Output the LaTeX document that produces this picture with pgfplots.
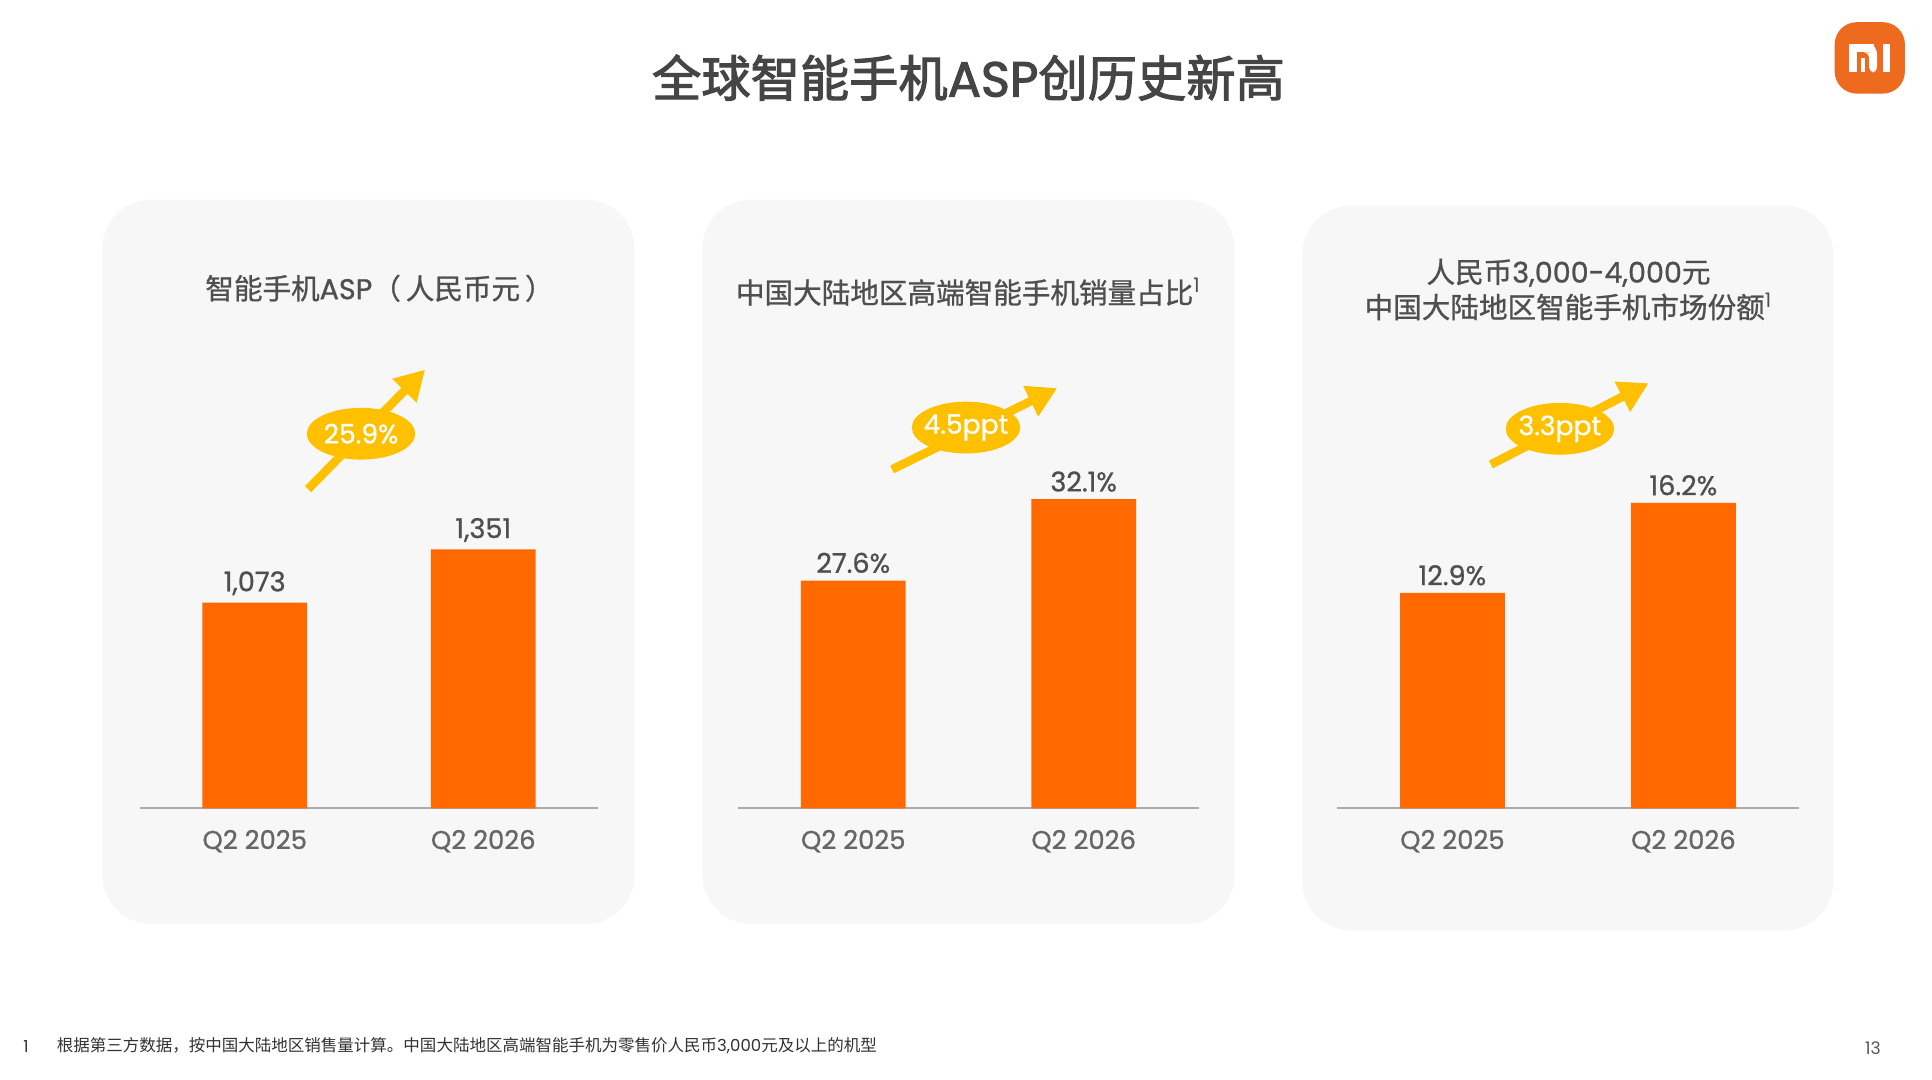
\documentclass[border=0pt]{standalone}
\usepackage{fontspec}
\usepackage{pgfplots}
\pgfplotsset{compat=1.18}
\usetikzlibrary{arrows.meta}
\setmainfont{Poppins}
\newfontfamily\popm{Poppins}[FakeBold=0.9]
\newfontfamily\popt{Poppins}[FakeBold=2.2]
\newfontfamily\cjk{Noto Sans CJK SC}
\newfontfamily\cjkm{Noto Sans CJK SC}[FakeBold=0.9]
\newfontfamily\cjkt{Noto Sans CJK SC}[FakeBold=2.2]
\definecolor{miorange}{HTML}{FF6900}
\definecolor{logoorange}{HTML}{EE6A1F}
\definecolor{panelbg}{HTML}{F7F7F7}
\definecolor{titlegray}{HTML}{454545}
\definecolor{textgray}{HTML}{4F4F4F}
\definecolor{tickgray}{HTML}{666666}
\definecolor{arrowyellow}{HTML}{FFC000}
\pgfplotsset{mibar/.style={
  scale only axis, height=178pt, anchor=south west,
  ybar, bar width=42.5pt,
  xmin=-0.5, xmax=1.5, xtick={0,1}, xticklabels={Q2 2025,Q2 2026},
  axis x line*=bottom, axis y line=none,
  x axis line style={draw=black!33, line width=0.8pt, -},
  xtick style={draw=none},
  xticklabel style={font=\fontsize{10.5}{12}\selectfont\popm, text=tickgray, yshift=-1pt},
  enlargelimits=false,
  nodes near coords, point meta=explicit symbolic,
  every node near coord/.append style={font=\fontsize{11}{12}\selectfont\popm, text=textgray, yshift=-0.5pt},
  clip=false,
}}
\begin{document}
\begin{tikzpicture}
\begin{scope}[x=0.5pt,y=-0.5pt]
  \fill[white] (0,0) rectangle (1568,876.5);
  % panels
  \fill[panelbg, rounded corners=20pt] (83,162) rectangle (515,750);
  \fill[panelbg, rounded corners=20pt] (570,162) rectangle (1002,750);
  \fill[panelbg, rounded corners=20pt] (1057,167) rectangle (1488,755);
  % main title
  \node[text=titlegray, font=\fontsize{20}{24}\selectfont] at (786,63)
    {{\cjkt 全球智能手机}{\popt ASP}{\cjkt 创历史新高}};
  % panel titles
  \node[text=textgray, font=\fontsize{11.6}{14}\selectfont] at (308,234)
    {{\cjkm 智能手机}{\popm ASP}{\cjkm （\hspace{2pt}人民币元\hspace{2pt}）}};
  \node[text=textgray, font=\fontsize{11.6}{14}\selectfont] at (786,237)
    {{\cjkm 中国大陆地区高端智能手机销量占比}\textsuperscript{1}};
  \node[text=textgray, font=\fontsize{11.6}{14.3}\selectfont, align=center] at (1273,235)
    {{\cjkm 人民币}{\popm 3,000-4,000}{\cjkm 元}\\{\cjkm 中国大陆地区智能手机市场份额}\textsuperscript{1}};
  % growth arrows
  \draw[arrowyellow, line width=3.5pt, -{Triangle[length=12pt,width=13pt]}] (250,397) -- (345,300);
  \fill[arrowyellow] (293,352) ellipse [x radius=44, y radius=21];
  \node[white, font=\fontsize{10.8}{12}\selectfont\popm] at (293,352) {25.9\%};
  \draw[arrowyellow, line width=3.5pt, -{Triangle[length=12pt,width=13pt]}] (724,381) -- (858,315);
  \fill[arrowyellow] (784,347) ellipse [x radius=44, y radius=21];
  \node[white, font=\fontsize{10.8}{12}\selectfont\popm] at (784,347) {4.5ppt};
  \draw[arrowyellow, line width=3.5pt, -{Triangle[length=12pt,width=13pt]}] (1210,377) -- (1338,311);
  \fill[arrowyellow] (1266,348) ellipse [x radius=44, y radius=21];
  \node[white, font=\fontsize{10.8}{12}\selectfont\popm] at (1266,348) {3.3ppt};
  % logo
  \begin{scope}[shift={(1489,18)}]
    \fill[logoorange, rounded corners=9pt] (0,0) rectangle (57,58);
    \fill[white] (12,17.9) rectangle (32,24.6);
    \fill[white, rounded corners=2pt] (26,17.9) -- (30,17.9) -- (34.4,22) -- (34.4,40.8) -- (28,40.8) -- (28,24.6) -- (26,24.6) -- cycle;
    \fill[white] (12,24) rectangle (18.4,40.8);
    \fill[white] (21.6,29) rectangle (24.8,40.8);
    \fill[white] (39.2,17.9) rectangle (45.1,40.8);
  \end{scope}
  % footnote
  \node[anchor=west, text=black!80, font=\fontsize{6.7}{8}\selectfont] at (12,849) {1};
  \node[anchor=west, text=black!80, font=\fontsize{6.7}{8}\selectfont] at (39,849)
    {{\cjk 根据第三方数据，按中国大陆地区销售量计算。中国大陆地区高端智能手机为零售价人民币}3,000{\cjk 元及以上的机型}};
  \node[text=black!65, font=\fontsize{7}{8}\selectfont] at (1520,851) {13};
\end{scope}
% panel 1
\begin{axis}[mibar, at={(57pt,-328pt)}, width=185.5pt, ymin=0, ymax=2289]
  \addplot[fill=miorange, draw=none] coordinates {(0,1073) [1,073] (1,1351) [1,351]};
\end{axis}
% panel 2
\begin{axis}[mibar, at={(299.5pt,-328pt)}, width=187pt, ymin=15, ymax=39.27]
  \addplot[fill=miorange, draw=none] coordinates {(0,27.6) [27.6\%] (1,32.1) [32.1\%]};
\end{axis}
% panel 3
\begin{axis}[mibar, at={(542.5pt,-328pt)}, width=187.5pt, ymin=5, ymax=21.09]
  \addplot[fill=miorange, draw=none] coordinates {(0,12.9) [12.9\%] (1,16.2) [16.2\%]};
\end{axis}
\end{tikzpicture}
\end{document}
